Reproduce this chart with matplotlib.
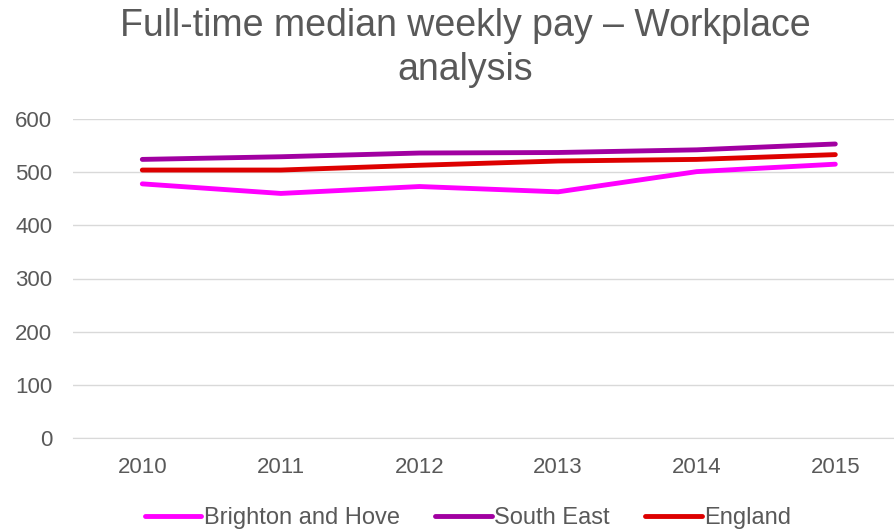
import numpy as np
import matplotlib.pyplot as plt

plt.rcParams['font.family'] = ['Liberation Sans', 'DejaVu Sans']

# dati
anni = ['2010', '2011', '2012', '2013', '2014', '2015']
brighton = [478, 460, 473, 463, 501, 515]
south_east = [524, 529, 536, 537, 542, 553]
england = [504, 504, 513, 521, 524, 533]

grigio = '#595959'

fig = plt.figure(figsize=(8.95, 5.31), dpi=100)
ax = fig.add_axes([73 / 895, 1 - 438 / 531, (895 - 73) / 895, (438 - 119) / 531])

x = np.arange(len(anni))
ax.plot(x, brighton, color='#FF00FF', lw=3.5, solid_capstyle='round', label='Brighton and Hove')
ax.plot(x, south_east, color='#A100A1', lw=3.5, solid_capstyle='round', label='South East')
ax.plot(x, england, color='#DD0000', lw=3.5, solid_capstyle='round', label='England')

ax.set_xlim(-0.5, -0.5 + 822 / 138.6)
ax.set_ylim(0, 600)
ax.set_yticks(range(0, 601, 100))
ax.set_xticks(x)
ax.set_xticklabels(anni)
ax.grid(axis='y', color='#D9D9D9', lw=1)
ax.set_axisbelow(True)
for s in ['top', 'right', 'left']:
    ax.spines[s].set_visible(False)
ax.spines['bottom'].set_color('#D9D9D9')
ax.tick_params(length=0, labelsize=16, labelcolor=grigio)
ax.tick_params(axis='x', pad=14)
ax.tick_params(axis='y', pad=15)

fig.text(465 / 895, 1 - 48 / 531, 'Full-time median weekly pay \u2013 Workplace\nanalysis',
         ha='center', va='center', fontsize=27, color=grigio, linespacing=1.28)

leg = fig.legend(loc='center', bbox_to_anchor=(468 / 895, 1 - 518 / 531), ncol=3, frameon=False,
                 fontsize=17, handlelength=2.4, handletextpad=0.1, columnspacing=1.5)
for t in leg.get_texts():
    t.set_color(grigio)

plt.savefig('out.png')
